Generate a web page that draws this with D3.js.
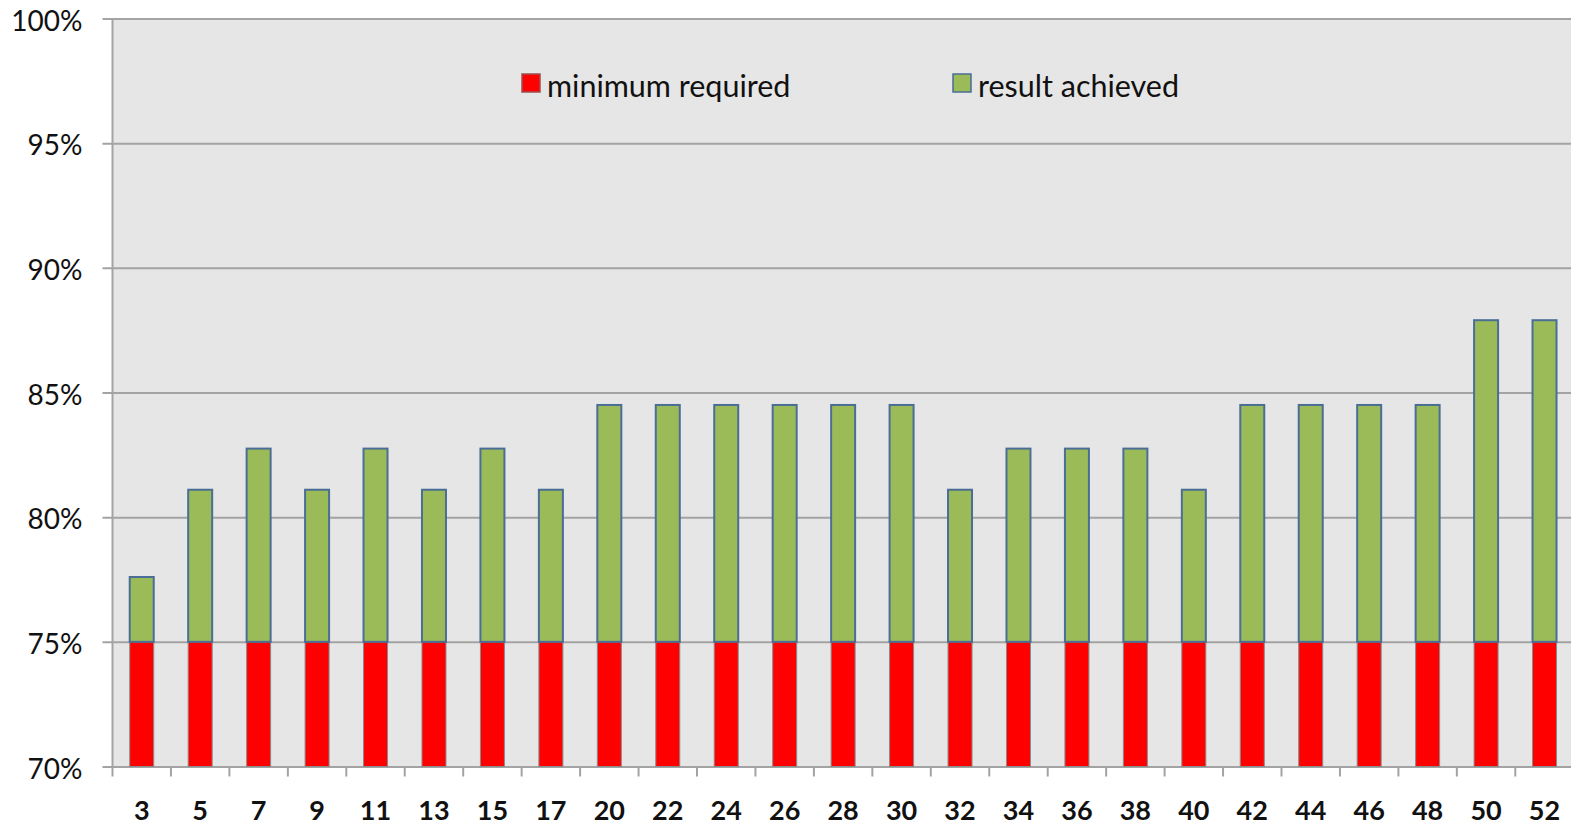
<!DOCTYPE html>
<html>
<head>
<meta charset="utf-8">
<script src="https://cdn.jsdelivr.net/npm/d3@7"></script>
<style>
  html, body { margin: 0; padding: 0; background: #ffffff; overflow: hidden; }
  svg { display: block; }
  text { font-family: Lato, "Open Sans", sans-serif; fill: #111; }
</style>
</head>
<body>
<svg id="chart" width="1571" height="825"></svg>
<script>
// Week numbers along the x axis
const categories = ["3","5","7","9","11","13","15","17","20","22","24","26","28","30",
                    "32","34","36","38","40","42","44","46","48","50","52"];
// Pass threshold (%) for every week
const minimumRequired = categories.map(() => 75);
// Score reached (%) per week
const resultAchieved = [77.6, 81.1, 82.75, 81.1, 82.75, 81.1, 82.75, 81.1,
                        84.5, 84.5, 84.5, 84.5, 84.5, 84.5,
                        81.1, 82.75, 82.75, 82.75, 81.1,
                        84.5, 84.5, 84.5, 84.5, 87.9, 87.9];
// Y axis ticks (%)
const yTicks = [70, 75, 80, 85, 90, 95, 100];
const seriesNames = ["minimum required", "result achieved"];

const svg = d3.select("#chart");
const plot = { left: 112.5, top: 18.5, bottom: 766.5, step: 58.45 };
plot.right = plot.left + plot.step * categories.length;

const x = d3.scaleBand().domain(categories).range([plot.left, plot.right]).padding(0);
const y = d3.scaleLinear().domain([70, 100]).range([plot.bottom, plot.top]);
const barW = 24;

// Plot background
svg.append("rect")
  .attr("x", plot.left).attr("y", plot.top)
  .attr("width", plot.right - plot.left).attr("height", plot.bottom - plot.top)
  .attr("fill", "#e6e6e6");

// Horizontal gridlines with left ticks and labels
const yAxis = d3.axisLeft(y)
  .tickValues(yTicks)
  .tickSize(-(plot.right - plot.left))
  .tickPadding(30)
  .tickFormat(d => d + "%");
const gy = svg.append("g").attr("transform", `translate(${plot.left},0)`).call(yAxis);
gy.select(".domain").remove();
gy.selectAll(".tick line")
  .attr("x1", -10)
  .attr("stroke", "#a3a3a3").attr("stroke-width", 2);
gy.selectAll(".tick text")
  .attr("font-size", 28).attr("font-family", "Lato, sans-serif")
  .attr("fill", "#111").attr("dy", "0.42em");

// Left axis line
svg.append("line")
  .attr("x1", plot.left).attr("x2", plot.left)
  .attr("y1", plot.top).attr("y2", plot.bottom)
  .attr("stroke", "#a3a3a3").attr("stroke-width", 2);

// Category ticks at band boundaries
svg.append("g").selectAll("line")
  .data(categories)
  .join("line")
  .attr("x1", d => x(d)).attr("x2", d => x(d))
  .attr("y1", plot.bottom).attr("y2", plot.bottom + 10)
  .attr("stroke", "#a3a3a3").attr("stroke-width", 2);

// Category labels
svg.append("g").selectAll("text")
  .data(categories)
  .join("text")
  .attr("x", d => x(d) + x.bandwidth() / 2)
  .attr("y", 820)
  .attr("text-anchor", "middle")
  .attr("font-size", 27).attr("font-weight", "bold")
  .text(d => d);

const rows = categories.map((c, i) => ({ c, min: minimumRequired[i], res: resultAchieved[i] }));

// Red segment: axis floor up to the required minimum
svg.append("g").selectAll("rect")
  .data(rows)
  .join("rect")
  .attr("x", d => x(d.c) + (x.bandwidth() - barW) / 2)
  .attr("y", d => y(d.min))
  .attr("width", barW)
  .attr("height", d => y(y.domain()[0]) - y(d.min))
  .attr("fill", "#ff0000")
  .attr("stroke", "#8a8a8a").attr("stroke-width", 1);

// Green segment: from the minimum up to the achieved result
svg.append("g").selectAll("rect")
  .data(rows)
  .join("rect")
  .attr("x", d => x(d.c) + (x.bandwidth() - barW) / 2)
  .attr("y", d => y(d.res))
  .attr("width", barW)
  .attr("height", d => y(d.min) - y(d.res))
  .attr("fill", "#9bbb59")
  .attr("stroke", "#4a6e96").attr("stroke-width", 2);

// Legend
const legend = [
  { name: seriesNames[0], x: 522, fill: "#ff0000", stroke: "#9a5050" },
  { name: seriesNames[1], x: 953, fill: "#9bbb59", stroke: "#4a6e96" }
];
const lg = svg.append("g").selectAll("g").data(legend).join("g");
lg.append("rect")
  .attr("x", d => d.x).attr("y", 74)
  .attr("width", 18).attr("height", 18)
  .attr("fill", d => d.fill)
  .attr("stroke", d => d.stroke).attr("stroke-width", 1.5);
lg.append("text")
  .attr("x", d => d.x + 25).attr("y", 97)
  .attr("font-size", 30.5)
  .text(d => d.name);
</script>
</body>
</html>
